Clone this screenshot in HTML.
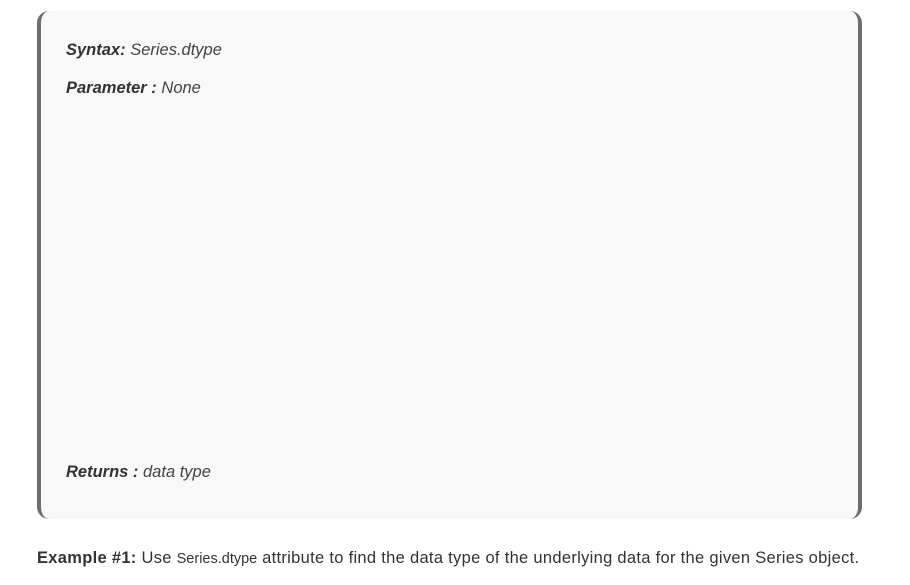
<!DOCTYPE html>
<html><head><meta charset="utf-8"><style>
body{margin:0;width:910px;height:585px;background:#fff;font-family:"Liberation Sans",sans-serif;color:#3a3a3a;position:relative;overflow:hidden}
.box{position:absolute;left:37px;top:11px;width:817px;height:508px;background:#f8f8f8;border-left:4px solid #6e6e6e;border-right:4px solid #6e6e6e;border-radius:12px}
.line{position:absolute;left:66px;font-size:16.5px;font-style:italic;color:#444;white-space:nowrap}
.line b{color:#333}
.ex{position:absolute;left:37px;top:549px;font-size:16.5px;color:#333;white-space:nowrap;letter-spacing:0.3px}
.code{font-size:14.5px;letter-spacing:0}
</style></head><body>
<div class="box"></div>
<div class="line" style="top:41px"><b>Syntax:</b> Series.dtype</div>
<div class="line" style="top:79px"><b>Parameter :</b> None</div>
<div class="line" style="top:463px"><b>Returns :</b> data type</div>
<div class="ex"><b>Example #1:</b> Use <span class="code">Series.dtype</span> attribute to find the data type of the underlying data for the given Series object.</div>
</body></html>
